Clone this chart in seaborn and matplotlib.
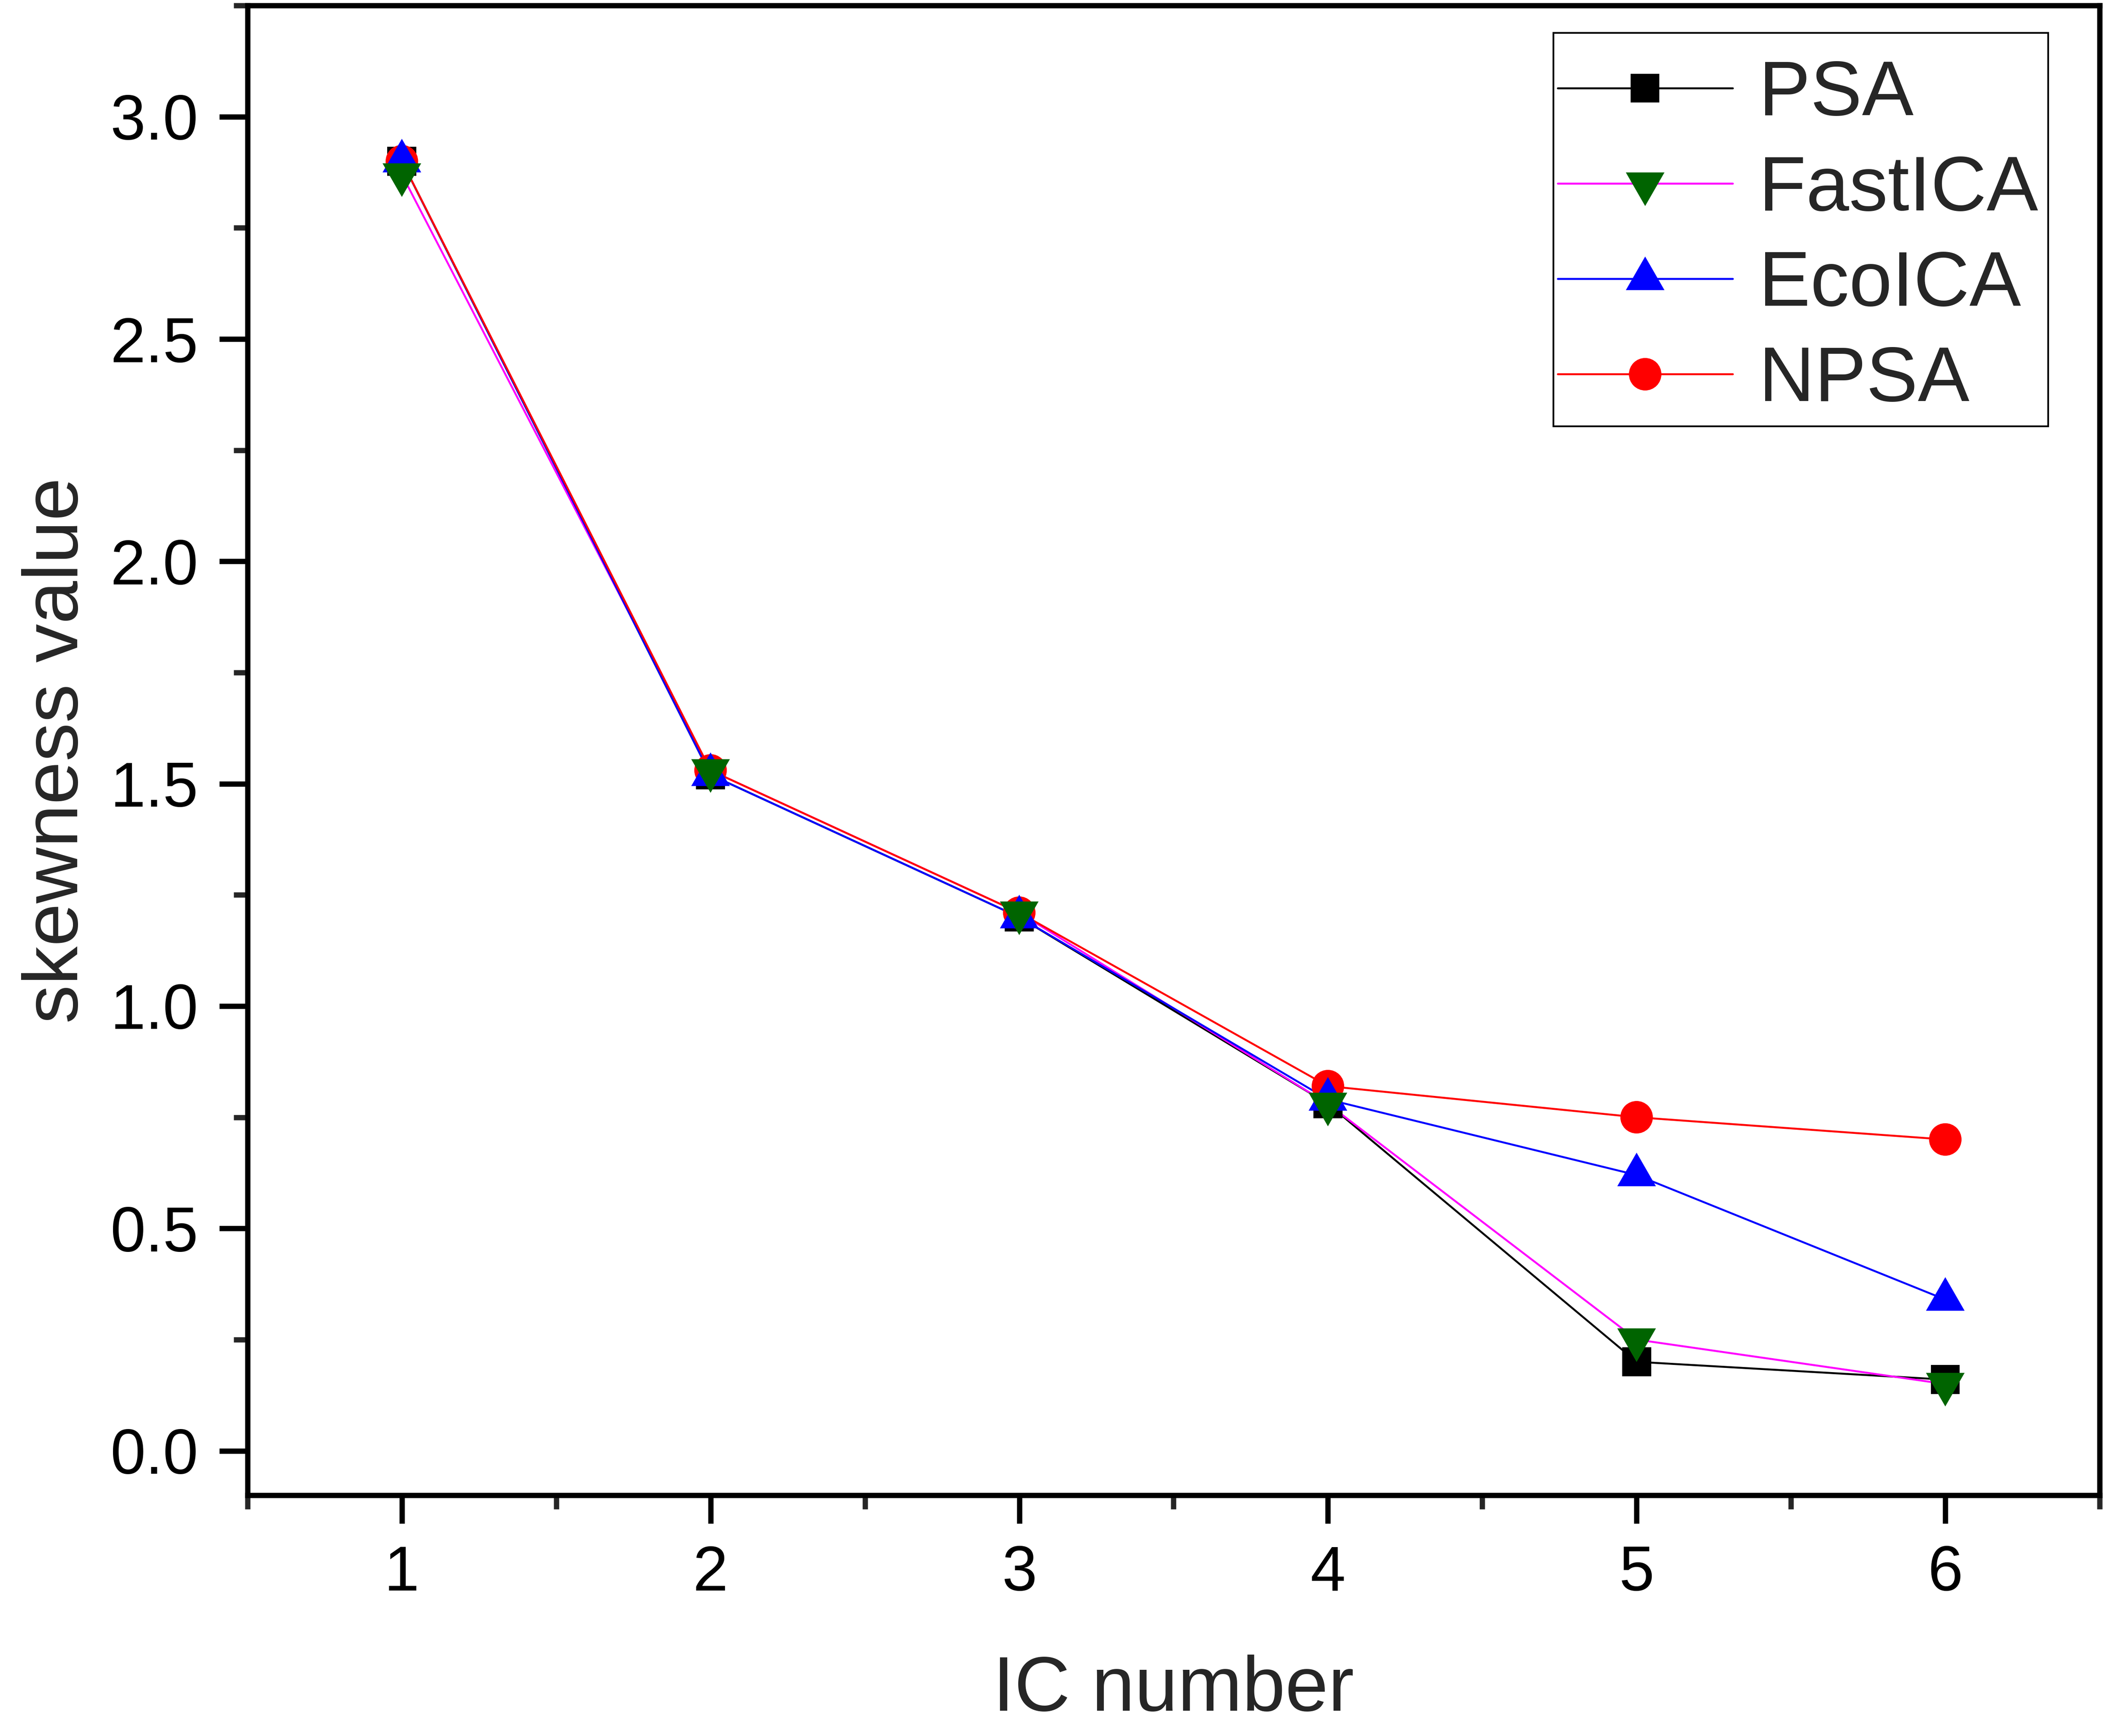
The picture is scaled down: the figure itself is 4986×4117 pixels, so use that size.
import numpy as np
import pandas as pd
import matplotlib
matplotlib.use("Agg")
from matplotlib import pyplot as plt
from matplotlib.markers import MarkerStyle
from matplotlib.lines import Line2D
from matplotlib.patches import Rectangle
from matplotlib.ticker import MultipleLocator
import seaborn as sns

# data
ic_number = [1, 2, 3, 4, 5, 6]
psa = [2.90, 1.52, 1.20, 0.78, 0.20, 0.16]
fastica = [2.87, 1.53, 1.21, 0.78, 0.25, 0.15]
ecoica = [2.90, 1.52, 1.20, 0.79, 0.62, 0.34]
npsa = [2.90, 1.53, 1.21, 0.82, 0.75, 0.70]

methods = ["PSA", "FastICA", "EcoICA", "NPSA"]
series = {"PSA": psa, "FastICA": fastica, "EcoICA": ecoica, "NPSA": npsa}

line_colors = {"PSA": "#000000", "FastICA": "#FF00FF", "EcoICA": "#0000FF", "NPSA": "#FF0000"}
mark_colors = {"PSA": "#000000", "FastICA": "#006400", "EcoICA": "#0000FF", "NPSA": "#FF0000"}

# triangles centred on their centroid (like Origin)
tri_up = MarkerStyle([(0, 1.16), (-1, -0.58), (1, -0.58), (0, 1.16)])
tri_down = MarkerStyle([(0, -1.16), (-1, 0.58), (1, 0.58), (0, -1.16)])
markers = {"PSA": "s", "FastICA": tri_down, "EcoICA": tri_up, "NPSA": "o"}
msize = {"PSA": 16.5, "FastICA": 25.5, "EcoICA": 25.5, "NPSA": 18.5}

rows = []
for m in methods:
    for x, y in zip(ic_number, series[m]):
        rows.append({"IC number": x, "skewness value": y, "method": m})
df = pd.DataFrame(rows)

# drawing order of the markers (last on top)
draw_order = ["PSA", "NPSA", "EcoICA", "FastICA"]
df_sc = pd.concat([df[df["method"] == m] for m in draw_order], ignore_index=True)

sns.set_style("ticks")
plt.rcParams["font.family"] = ["Liberation Sans", "DejaVu Sans"]

W, H = 4986, 4117
fig = plt.figure(figsize=(W / 300, H / 300), dpi=300)
ax = fig.add_axes([0.1177, 0.1387, 0.9984 - 0.1177, 0.9968 - 0.1387])

sns.lineplot(data=df, x="IC number", y="skewness value", hue="method",
             hue_order=methods, palette=line_colors, linewidth=1.1,
             estimator=None, sort=False, legend=False, ax=ax, zorder=2)
sns.scatterplot(data=df_sc, x="IC number", y="skewness value", hue="method",
                palette=mark_colors, style="method", markers=markers,
                size="method", sizes={k: v ** 2 for k, v in msize.items()},
                linewidth=0, legend=False, ax=ax, zorder=3)

ax.set_xlim(0.5, 6.5)
ax.set_ylim(-0.1, 3.25)
ax.xaxis.set_major_locator(MultipleLocator(1))
ax.xaxis.set_minor_locator(MultipleLocator(0.5))
ax.yaxis.set_major_locator(MultipleLocator(0.5))
ax.yaxis.set_minor_locator(MultipleLocator(0.25))
ax.yaxis.set_major_formatter(matplotlib.ticker.FormatStrFormatter("%.1f"))

for s in ax.spines.values():
    s.set_linewidth(3.0)
    s.set_color("black")
    s.set_visible(True)

ax.tick_params(which="major", direction="out", length=16, width=3.0,
               labelsize=36, pad=12, colors="black",
               top=False, right=False)
ax.tick_params(which="minor", direction="out", length=8, width=3.0,
               top=False, right=False)

ax.set_xlabel("IC number", fontsize=44)
ax.set_ylabel("skewness value", fontsize=44)
ax.xaxis.set_label_coords(0.5, -0.107)
ax.yaxis.set_label_coords(-0.083, 0.5)

handles = []
for m in methods:
    handles.append(Line2D([], [], color=line_colors[m], linewidth=1.1,
                          marker=markers[m], markersize=msize[m],
                          markerfacecolor=mark_colors[m], markeredgewidth=0))
leg = ax.legend(handles, methods, loc="upper right",
                bbox_to_anchor=(0.9739, 1 - 116 / H), bbox_transform=fig.transFigure,
                borderaxespad=0, fontsize=44, frameon=False, handlelength=2.26,
                handletextpad=0.34, labelspacing=0.30, borderpad=0.13)

# legend box drawn separately (Origin-style padding)
fig.add_artist(Rectangle((3683 / W, 1 - 1011 / H), (4856 - 3683) / W, (1011 - 78) / H,
                         transform=fig.transFigure, fill=False,
                         edgecolor="black", linewidth=1.0, zorder=5))

fig.savefig("out.png", dpi=300)
